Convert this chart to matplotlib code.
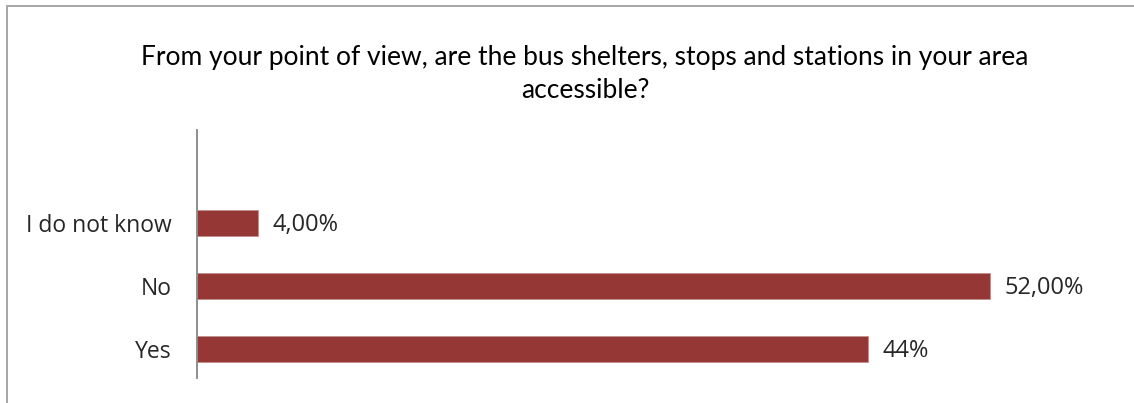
import matplotlib
matplotlib.use("Agg")
import matplotlib.pyplot as plt
from matplotlib.patches import Rectangle

categories = ["Yes", "No", "I do not know"]
shares = [44, 52, 4]
value_labels = ["44%", "52,00%", "4,00%"]
title = ("From your point of view, are the bus shelters, stops and stations in your area\n"
         "accessible?")

plt.rcParams["font.family"] = ["Lato", "DejaVu Sans"]

fig = plt.figure(figsize=(11.34, 4.03), dpi=100)
W, H = 1134, 403

# outer chart frame
fig.patches.append(Rectangle((7 / W, -0.05), 1.2, (403 - 5.5) / H + 0.05,
                             transform=fig.transFigure, fill=False,
                             edgecolor="#a6a6a6", linewidth=1.4))

ax = fig.add_axes([197 / W, 1 - 378 / H, 915 / W, 248 / H])
bars = ax.barh(range(len(categories)), shares, height=0.41, color="#953735",
               edgecolor="#c0908f", linewidth=0.6)
ax.set_xlim(0, 60)
ax.set_ylim(-0.46, 3.48)

for i, (v, lab) in enumerate(zip(shares, value_labels)):
    ax.text(v + 0.95, i - 0.03, lab, va="center", ha="left", fontsize=17,
            color="#262626", family=["Open Sans", "DejaVu Sans"])

ax.set_yticks(range(len(categories)))
ax.set_yticklabels(categories, fontsize=16.5, color="#262626",
                   family=["Open Sans", "DejaVu Sans"])
ax.tick_params(axis="y", length=0, pad=18)
ax.set_xticks([])
for side in ["top", "right", "bottom"]:
    ax.spines[side].set_visible(False)
ax.spines["left"].set_color("#868686")
ax.spines["left"].set_linewidth(1.3)

fig.text(585 / W, 1 - 74 / H, title, ha="center", va="center", fontsize=19,
         color="black", linespacing=1.4)

fig.savefig("out.png", dpi=100)
